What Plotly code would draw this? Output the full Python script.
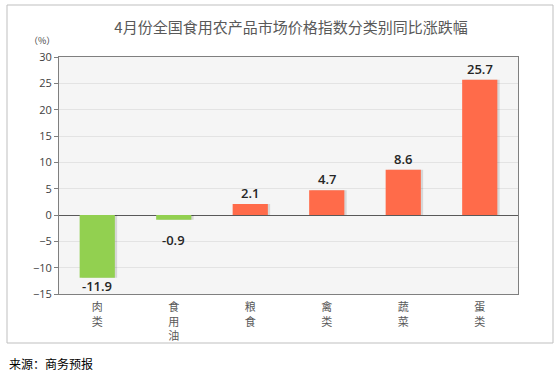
import plotly.graph_objects as go

categories = ["肉<br>类", "食<br>用<br>油", "粮<br>食", "禽<br>类", "蔬<br>菜", "蛋<br>类"]
values = [-11.9, -0.9, 2.1, 4.7, 8.6, 25.7]
tick_vals = [-15, -10, -5, 0, 5, 10, 15, 20, 25, 30]

colors = ["#92D050" if v < 0 else "#FF6B4A" for v in values]
labels = [f"{v:.1f}" for v in values]

FONT = "Noto Sans CJK SC, Open Sans, sans-serif"
YMIN, YMAX = -15, 30

W, H = 559, 384
L, R, T, B = 59, 518, 57, 294
pw, ph = R - L, B - T


def px(x):
    return (x - L) / pw


def py(y):
    return (B - y) / ph


fig = go.Figure()
# subtle shadow
fig.add_trace(go.Bar(x=list(range(6)), y=values,
                     marker=dict(color="rgba(0,0,0,0.12)", line=dict(width=0)),
                     width=0.46, offset=-0.23 + 0.03, hoverinfo="skip", showlegend=False))
fig.add_trace(go.Bar(
    x=list(range(6)), y=values,
    marker=dict(color=colors, line=dict(width=0)),
    width=0.46, offset=-0.23,
    showlegend=False,
))

annotations = []
unit = ph / (YMAX - YMIN)
for i, (v, t) in enumerate(zip(values, labels)):
    font = dict(size=13, color="#262626", family="Open Sans, sans-serif", weight=600)
    if v >= 0:
        annotations.append(dict(x=i, y=v, text=t, showarrow=False, yanchor="bottom", yshift=0,
                                font=font))
    else:
        space_below = (v - YMIN) * unit  # pixels between bar end and axis bottom
        shift = -9 if space_below > 28 else 3
        annotations.append(dict(x=i, y=v, text=t, showarrow=False, yanchor="top", yshift=shift,
                                font=font))

annotations += [
    dict(text="（%）", xref="paper", yref="paper", x=px(42), y=py(41),
         xanchor="center", yanchor="middle", showarrow=False,
         font=dict(size=9, color="#404040", family=FONT)),
    dict(text="来源：商务预报", xref="paper", yref="paper", x=px(7), y=py(363),
         xanchor="left", yanchor="middle", showarrow=False,
         font=dict(size=12, color="#000000", family=FONT)),
]

fig.update_layout(
    width=W, height=H,
    margin=dict(l=L, r=W - R, t=T, b=H - B),
    paper_bgcolor="white",
    plot_bgcolor="#F5F5F5",
    barmode="overlay",
    font=dict(family=FONT, color="#404040"),
    title=dict(text="4月份全国食用农产品市场价格指数分类别同比涨跌幅",
               x=px(291), xref="paper", xanchor="center",
               y=1 - 28 / H, yanchor="middle",
               font=dict(size=15, color="#595959", family=FONT)),
    xaxis=dict(tickmode="array", tickvals=list(range(6)), ticktext=categories,
               range=[-0.5, 5.5], showgrid=False, zeroline=False,
               showline=True, linecolor="#7F7F7F", linewidth=1, mirror=True,
               ticks="", ticklabelstandoff=3,
               tickfont=dict(size=11, color="#595959", family=FONT)),
    yaxis=dict(range=[YMIN, YMAX], tickvals=tick_vals, showgrid=True,
               gridcolor="#E3E3E3", gridwidth=1,
               zeroline=True, zerolinecolor="#595959", zerolinewidth=1,
               showline=True, linecolor="#7F7F7F", linewidth=1, mirror=True,
               ticks="outside", ticklen=4, tickcolor="#7F7F7F",
               tickfont=dict(size=11, color="#404040", family="Open Sans, sans-serif")),
    shapes=[dict(type="rect", xref="paper", yref="paper",
                 x0=px(7), x1=px(553), y0=py(343), y1=py(5),
                 line=dict(color="#BFBFBF", width=1), fillcolor="rgba(0,0,0,0)", layer="above")],
    annotations=annotations,
)

fig.write_html("out.html", config={"displayModeBar": False},
               post_script="document.body.style.margin='0';document.body.style.padding='0';")
